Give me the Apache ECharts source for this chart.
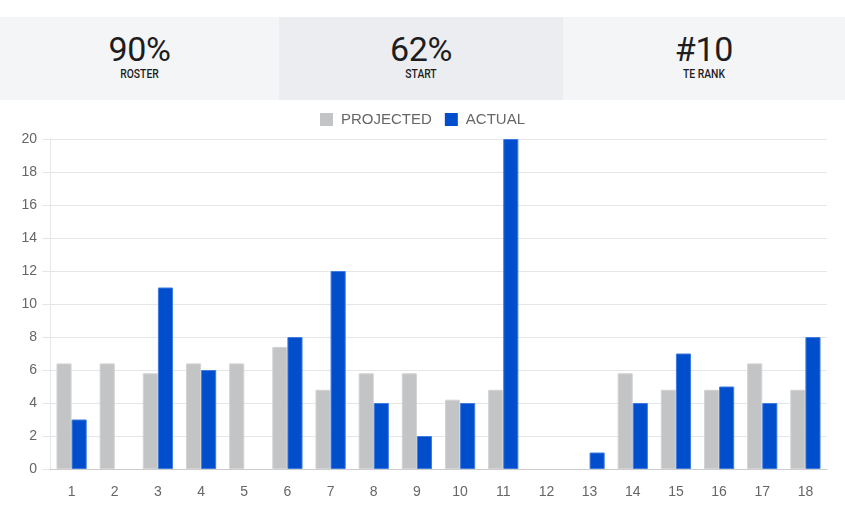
<!DOCTYPE html>
<html><head><meta charset="utf-8">
<script src="https://cdn.jsdelivr.net/npm/echarts@6/dist/echarts.min.js"></script>
<style>
html,body{margin:0;padding:0;background:#fff;width:845px;height:517px;overflow:hidden;font-family:Roboto,"Liberation Sans",sans-serif;}
#stats{position:absolute;left:0;top:17px;width:845px;height:83px;display:flex;}
.stat{height:83px;text-align:center;color:#1d1d1f;}
.stat .v{font-size:34px;line-height:34px;padding-top:15px;letter-spacing:-0.3px;}
.stat .l{font-size:12px;line-height:12px;margin-top:2px;font-weight:500;transform:scaleX(0.86);}
#chart{position:absolute;left:0;top:0;width:845px;height:517px;}
</style></head>
<body>
<div id="stats"></div>
<div id="chart"></div>
<script>
const statValues = ["90%", "62%", "#10"];
const statLabels = ["ROSTER", "START", "TE RANK"];
const categories = ["1","2","3","4","5","6","7","8","9","10","11","12","13","14","15","16","17","18"];
const projected = [6.4, 6.4, 5.8, 6.4, 6.4, 7.4, 4.8, 5.8, 5.8, 4.2, 4.8, 0, 0, 5.8, 4.8, 4.8, 6.4, 4.8];
const actual = [3, 0, 11, 6, 0, 8, 12, 4, 2, 4, 20, 0, 1, 4, 7, 5, 4, 8];

const widths = [279, 284, 282];
const bgs = ["#f4f5f7", "#ecedf0", "#f4f5f7"];
const stats = document.getElementById('stats');
statValues.forEach((v, i) => {
  const d = document.createElement('div');
  d.className = 'stat';
  d.style.width = widths[i] + 'px';
  d.style.background = bgs[i];
  d.innerHTML = '<div class="v">' + v + '</div><div class="l">' + statLabels[i] + '</div>';
  stats.appendChild(d);
});

// zero values draw no visible bar in the reference
const hideZero = arr => arr.map(v => v === 0 ? '-' : v);

const chart = echarts.init(document.getElementById('chart'), null, {renderer: 'canvas'});
chart.setOption({
  animation: false,
  textStyle: {fontFamily: '"Liberation Sans", Arial, sans-serif'},
  legend: {
    top: 107, left: 'center',
    itemWidth: 13, itemHeight: 13, itemGap: 13,
    icon: 'rect',
    itemStyle: {borderWidth: 0},
    textStyle: {color: '#666', fontSize: 15, padding: [0, 0, 0, 3]},
    data: ['PROJECTED', 'ACTUAL']
  },
  grid: {left: 50, right: 18, top: 139, bottom: 48},
  xAxis: {
    type: 'category', data: categories,
    axisLine: {lineStyle: {color: '#ccc'}},
    axisTick: {show: false},
    axisLabel: {color: '#666', fontSize: 14, margin: 16}
  },
  yAxis: {
    type: 'value', min: 0, max: 20, interval: 2,
    axisLine: {show: true, lineStyle: {color: '#e6e6e6'}},
    axisTick: {show: true, length: 8, inside: false, lineStyle: {color: '#e6e6e6'}},
    splitLine: {lineStyle: {color: '#e6e6e6'}},
    axisLabel: {color: '#666', fontSize: 14, margin: 13}
  },
  series: [
    {name: 'PROJECTED', type: 'bar', data: hideZero(projected), barGap: '0%', barCategoryGap: '30%',
     itemStyle: {color: '#c3c4c6', borderColor: '#d2d3d5', borderWidth: 1}},
    {name: 'ACTUAL', type: 'bar', data: hideZero(actual),
     itemStyle: {color: '#004ecb', borderColor: '#3f7be0', borderWidth: 1}}
  ]
});
</script>
</body></html>
